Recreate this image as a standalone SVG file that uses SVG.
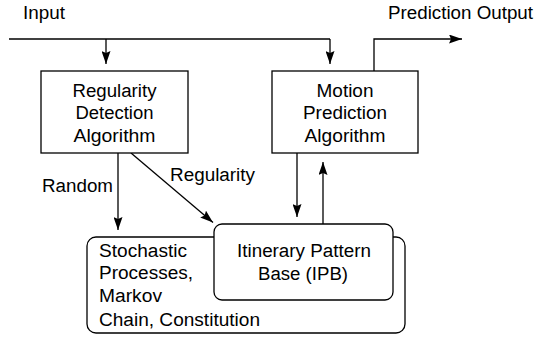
<svg xmlns="http://www.w3.org/2000/svg" width="535" height="337" viewBox="0 0 535 337">
<style>
text{font-family:"Liberation Sans",Arial,sans-serif;font-size:18px;fill:#000}
.c{text-anchor:middle}
.box{fill:#fff;stroke:#000;stroke-width:1.3}
.ln{fill:none;stroke:#000;stroke-width:1.3}
</style>
<defs>
<marker id="ah" viewBox="0 0 13 9" refX="13" refY="4.5" markerWidth="13" markerHeight="9" markerUnits="userSpaceOnUse" orient="auto">
<path d="M0,0 L13,4.5 L0,9 L2,4.5 z" fill="#000"/>
</marker>
</defs>
<text x="23" y="19" textLength="42" lengthAdjust="spacingAndGlyphs">Input</text>
<text x="388" y="19" textLength="145" lengthAdjust="spacingAndGlyphs">Prediction Output</text>
<g id="connectors">
<path class="ln" d="M9,39 H330"/>
<path class="ln" d="M106,39 V64" marker-end="url(#ah)"/>
<path class="ln" d="M330,39 V64" marker-end="url(#ah)"/>
<path class="ln" d="M374,71 V39 H462" marker-end="url(#ah)"/>
<path class="ln" d="M118,153 V230" marker-end="url(#ah)"/>
<path class="ln" d="M131,153 L213,222.5" marker-end="url(#ah)"/>
<path class="ln" d="M297,153 V217" marker-end="url(#ah)"/>
<path class="ln" d="M323,224 V162" stroke="#333" marker-end="url(#ah)"/>
<text x="42" y="192" textLength="71" lengthAdjust="spacingAndGlyphs">Random</text>
<text x="170" y="181" textLength="85" lengthAdjust="spacingAndGlyphs">Regularity</text>
</g>
<g id="regularity-detection">
<rect class="box" x="41" y="71" width="147" height="82"/>
<text class="c" x="114.5" y="97" textLength="84" lengthAdjust="spacingAndGlyphs">Regularity</text>
<text class="c" x="114.5" y="119" textLength="78" lengthAdjust="spacingAndGlyphs">Detection</text>
<text class="c" x="114.5" y="142" textLength="82" lengthAdjust="spacingAndGlyphs">Algorithm</text>
</g>
<g id="motion-prediction">
<rect class="box" x="272" y="71" width="146" height="82"/>
<text class="c" x="345" y="97" textLength="57" lengthAdjust="spacingAndGlyphs">Motion</text>
<text class="c" x="345" y="119" textLength="84" lengthAdjust="spacingAndGlyphs">Prediction</text>
<text class="c" x="345" y="142" textLength="81" lengthAdjust="spacingAndGlyphs">Algorithm</text>
</g>
<g id="stochastic">
<rect class="box" x="87" y="237" width="318" height="96" rx="9"/>
<text x="99" y="257" textLength="88" lengthAdjust="spacingAndGlyphs">Stochastic</text>
<text x="99" y="279" textLength="94" lengthAdjust="spacingAndGlyphs">Processes,</text>
<text x="99" y="302" textLength="63" lengthAdjust="spacingAndGlyphs">Markov</text>
<text x="99" y="326" textLength="161" lengthAdjust="spacingAndGlyphs">Chain, Constitution</text>
</g>
<g id="ipb">
<rect class="box" x="214" y="224" width="179" height="76" rx="8"/>
<text class="c" x="304" y="257" textLength="134" lengthAdjust="spacingAndGlyphs">Itinerary Pattern</text>
<text class="c" x="303" y="280" textLength="90" lengthAdjust="spacingAndGlyphs">Base (IPB)</text>
</g>
</svg>
